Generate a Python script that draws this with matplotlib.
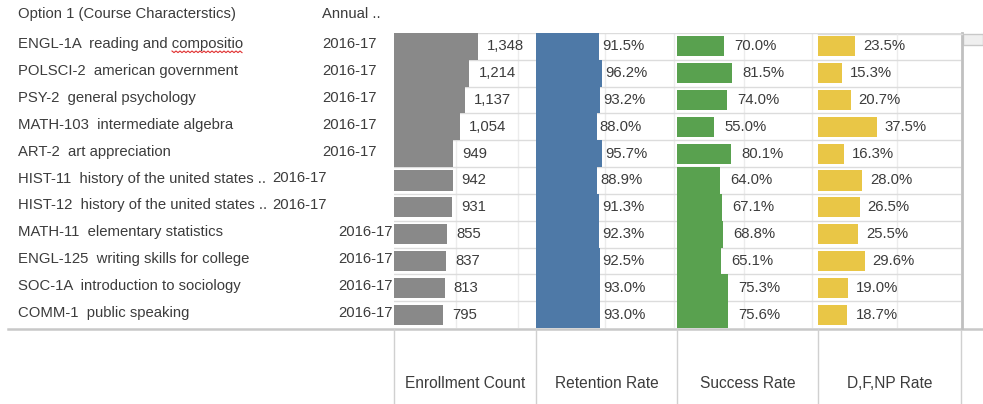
import numpy as np
import matplotlib
matplotlib.use("Agg")
import matplotlib.pyplot as plt
from matplotlib.patches import Rectangle

plt.rcParams['font.family'] = ['Liberation Sans', 'DejaVu Sans']

# ---------------- data ----------------
courses = [
    "ENGL-1A  reading and compositio",
    "POLSCI-2  american government",
    "PSY-2  general psychology",
    "MATH-103  intermediate algebra",
    "ART-2  art appreciation",
    "HIST-11  history of the united states ..",
    "HIST-12  history of the united states ..",
    "MATH-11  elementary statistics",
    "ENGL-125  writing skills for college",
    "SOC-1A  introduction to sociology",
    "COMM-1  public speaking",
]
years = ["2016-17"] * 11
enrollment = [1348, 1214, 1137, 1054, 949, 942, 931, 855, 837, 813, 795]
retention = [91.5, 96.2, 93.2, 88.0, 95.7, 88.9, 91.3, 92.3, 92.5, 93.0, 93.0]
success = [70.0, 81.5, 74.0, 55.0, 80.1, 64.0, 67.1, 68.8, 65.1, 75.3, 75.6]
dfnp = [23.5, 15.3, 20.7, 37.5, 16.3, 28.0, 26.5, 25.5, 29.6, 19.0, 18.7]
measures = ["Enrollment Count", "Retention Rate", "Success Rate", "D,F,NP Rate"]
header_left = "Option 1 (Course Characterstics)"
header_year = "Annual .."

# ---------------- layout ----------------
W, H = 983, 404
fig = plt.figure(figsize=(W / 100, H / 100), dpi=100)
TXT = "#3c3c3c"
FS = 10.7

top_px, bot_px = 33, 328
n = len(courses)
rh = (bot_px - top_px) / n
edges = [394, 536, 677, 818, 961]


def fx(px):
    return px / W


def fy(py):
    return 1 - py / H


# background axes in pixel coordinates for decorations / text
bg = fig.add_axes([0, 0, 1, 1])
bg.set_xlim(0, W)
bg.set_ylim(H, 0)
bg.axis("off")

panels = [
    dict(vals=enrollment, scale=1.0, xmax=2285, grid=[1000, 2000], color="#898989",
         heights=[1.0] * 5 + [0.75] * 6, fmt=lambda v: f"{v:,}", off=9),
    dict(vals=retention, scale=0.01, xmax=2.05, grid=[1.0, 2.0], color="#4e79a7",
         heights=[1.0] * 11, fmt=lambda v: f"{v:.1f}%", off=3),
    dict(vals=success, scale=0.01, xmax=2.09, grid=[1.0, 2.0], color="#59a14f",
         heights=[0.75] * 5 + [1.0] * 6, fmt=lambda v: f"{v:.1f}%", off=10),
    dict(vals=dfnp, scale=0.01, xmax=0.91, grid=[0.5], color="#e9c646",
         heights=[0.75] * 11, fmt=lambda v: f"{v:.1f}%", off=8),
]

ypos = np.arange(n)
for i, p in enumerate(panels):
    x0, x1 = edges[i], edges[i + 1]
    ax = fig.add_axes([fx(x0), fy(bot_px), fx(x1 - x0), (bot_px - top_px) / H])
    ax.set_xlim(0, p["xmax"])
    ax.set_ylim(n - 0.5, -0.5)
    ax.axis("off")
    for g in p["grid"]:
        ax.axvline(g, color="#ececec", lw=1, zorder=0)
    for k in range(n):
        ax.axhline(k - 0.5, color="#dcdcdc", lw=1, zorder=0.5)
    vals = np.array(p["vals"]) * p["scale"]
    ax.barh(ypos, vals, height=p["heights"], color=p["color"], zorder=2,
            linewidth=0)
    for k, (v, raw) in enumerate(zip(vals, p["vals"])):
        ax.annotate(p["fmt"](raw), xy=(v, k), xytext=(p["off"], 0),
                    textcoords="offset pixels", va="center", ha="left",
                    fontsize=FS, color=TXT, zorder=3, annotation_clip=False)

# headers
bg.text(18, 14, header_left, fontsize=FS, color=TXT, va="center", ha="left")
bg.text(322, 14, header_year, fontsize=FS, color=TXT, va="center", ha="left")

year_x = [322] * 5 + [272] * 2 + [338] * 4
for k in range(n):
    yc = top_px + (k + 0.5) * rh - 2
    bg.text(18, yc, courses[k], fontsize=FS, color=TXT, va="center", ha="left")
    bg.text(year_x[k], yc, years[k], fontsize=FS, color=TXT, va="center", ha="left")

# spell-check squiggle under "compositio"
sx = np.arange(172, 244, 2.0)
sy = 51 + np.where(np.arange(len(sx)) % 2 == 0, 0, 1.6)
bg.plot(sx, sy, color="#e03030", lw=0.8)

# bottom rule and column headers
bg.plot([8, W], [328.5, 328.5], color="#c8c8c8", lw=1.8)
for e in edges:
    bg.plot([e, e], [329, H], color="#d0d0d0", lw=1)
for i, m in enumerate(measures):
    bg.text((edges[i] + edges[i + 1]) / 2, 383, m, fontsize=11.2, color=TXT,
            ha="center", va="center")

# right scrollbar area
bg.plot([962, 962], [33, 328], color="#c0c0c0", lw=2)
bg.plot([818, 962], [33.5, 33.5], color="#dcdcdc", lw=1)
bg.add_patch(Rectangle((963, 34), 20, 11, facecolor="#efefef", edgecolor="#c8c8c8", lw=1))

fig.savefig("out.png", dpi=100)
